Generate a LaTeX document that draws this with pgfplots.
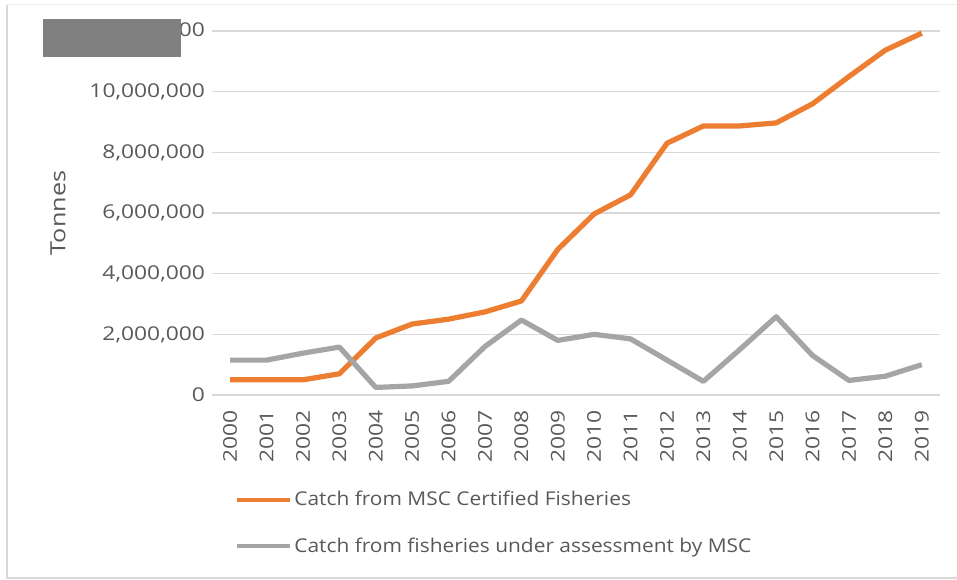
\documentclass[border=0pt]{standalone}
\usepackage{fontspec}
\setmainfont{Open Sans}
\newfontfamily\wide[FakeStretch=1.2]{Open Sans}
\newfontfamily\lgd[FakeStretch=1.1]{Open Sans}
\usepackage{pgfplots}
\pgfplotsset{compat=1.18}
\definecolor{txtgray}{HTML}{595959}
\definecolor{gridgray}{HTML}{D9D9D9}
\definecolor{msc}{HTML}{ED7D31}
\definecolor{assess}{HTML}{A5A5A5}

\begin{document}
\begin{tikzpicture}
% 1 px of the reference = 0.5pt; plot box lower left at (0,0)
\useasboundingbox (-106pt,-92pt) rectangle (372.5pt,197.5pt);
\draw[gridgray, line width=0.6pt] (-102.5pt,195pt) -- (-102.5pt,-91.5pt) -- (372.5pt,-91.5pt);
\draw[gridgray!50, line width=0.5pt] (-102.5pt,195pt) -- (372.5pt,195pt);
\begin{axis}[
    at={(0,0)}, anchor=south west,
    scale only axis,
    width=364pt, height=182pt,
    xmin=-0.5, xmax=19.5,
    ymin=0, ymax=12000000,
    xtick={0,...,19},
    xticklabels={2000,2001,2002,2003,2004,2005,2006,2007,2008,2009,2010,2011,2012,2013,2014,2015,2016,2017,2018,2019},
    xticklabel style={rotate=90, anchor=east, xshift=-4pt, font=\wide\fontsize{9.5}{11}\selectfont, text=txtgray},
    ytick={0,2000000,...,12000000},
    yticklabels={0,{2,000,000},{4,000,000},{6,000,000},{8,000,000},{10,000,000},{12,000,000}},
    yticklabel style={font=\wide\fontsize{9.5}{11}\selectfont, text=txtgray},
    scaled y ticks=false,
    ymajorgrids, grid style={gridgray, line width=0.6pt},
    axis line style={draw=none},
    major tick length=0pt,
    axis x line*=bottom,
    x axis line style={gridgray, line width=0.6pt},
    ylabel={Tonnes},
    ylabel style={font=\wide\fontsize{10.5}{12}\selectfont, text=txtgray,
        at={(axis description cs:0,0.5)}, anchor=center, yshift=77pt},
    legend style={at={(11.5pt,-64pt)}, anchor=west, draw=none, fill=none,
        font=\lgd\fontsize{9.5}{11}\selectfont, text=txtgray,
        row sep=12.5pt, inner sep=0pt, nodes={inner sep=1pt}},
    legend cell align=left,
    legend image code/.code={\draw[#1, line width=2pt] (0pt,0pt) -- (26.5pt,0pt);},
    clip=false,
]
\addplot[msc, line width=2.6pt, line join=round] coordinates {
 (0,500000) (1,500000) (2,500000) (3,700000) (4,1880000) (5,2340000)
 (6,2500000) (7,2740000) (8,3100000) (9,4800000) (10,5970000) (11,6600000)
 (12,8300000) (13,8870000) (14,8870000) (15,8970000) (16,9600000)
 (17,10500000) (18,11370000) (19,11930000)};
\addlegendentry{Catch from MSC Certified Fisheries}
\addplot[assess, line width=2.6pt, line join=round] coordinates {
 (0,1150000) (1,1150000) (2,1380000) (3,1580000) (4,250000) (5,300000)
 (6,450000) (7,1600000) (8,2470000) (9,1800000) (10,2000000) (11,1850000)
 (12,1150000) (13,450000) (14,1500000) (15,2580000) (16,1300000)
 (17,480000) (18,620000) (19,1000000)};
\addlegendentry{Catch from fisheries under assessment by MSC}
\end{axis}
% redaction box over the top tick label
\fill[gray] (-84.5pt,169pt) rectangle (-15.5pt,188pt);
\end{tikzpicture}
\end{document}
